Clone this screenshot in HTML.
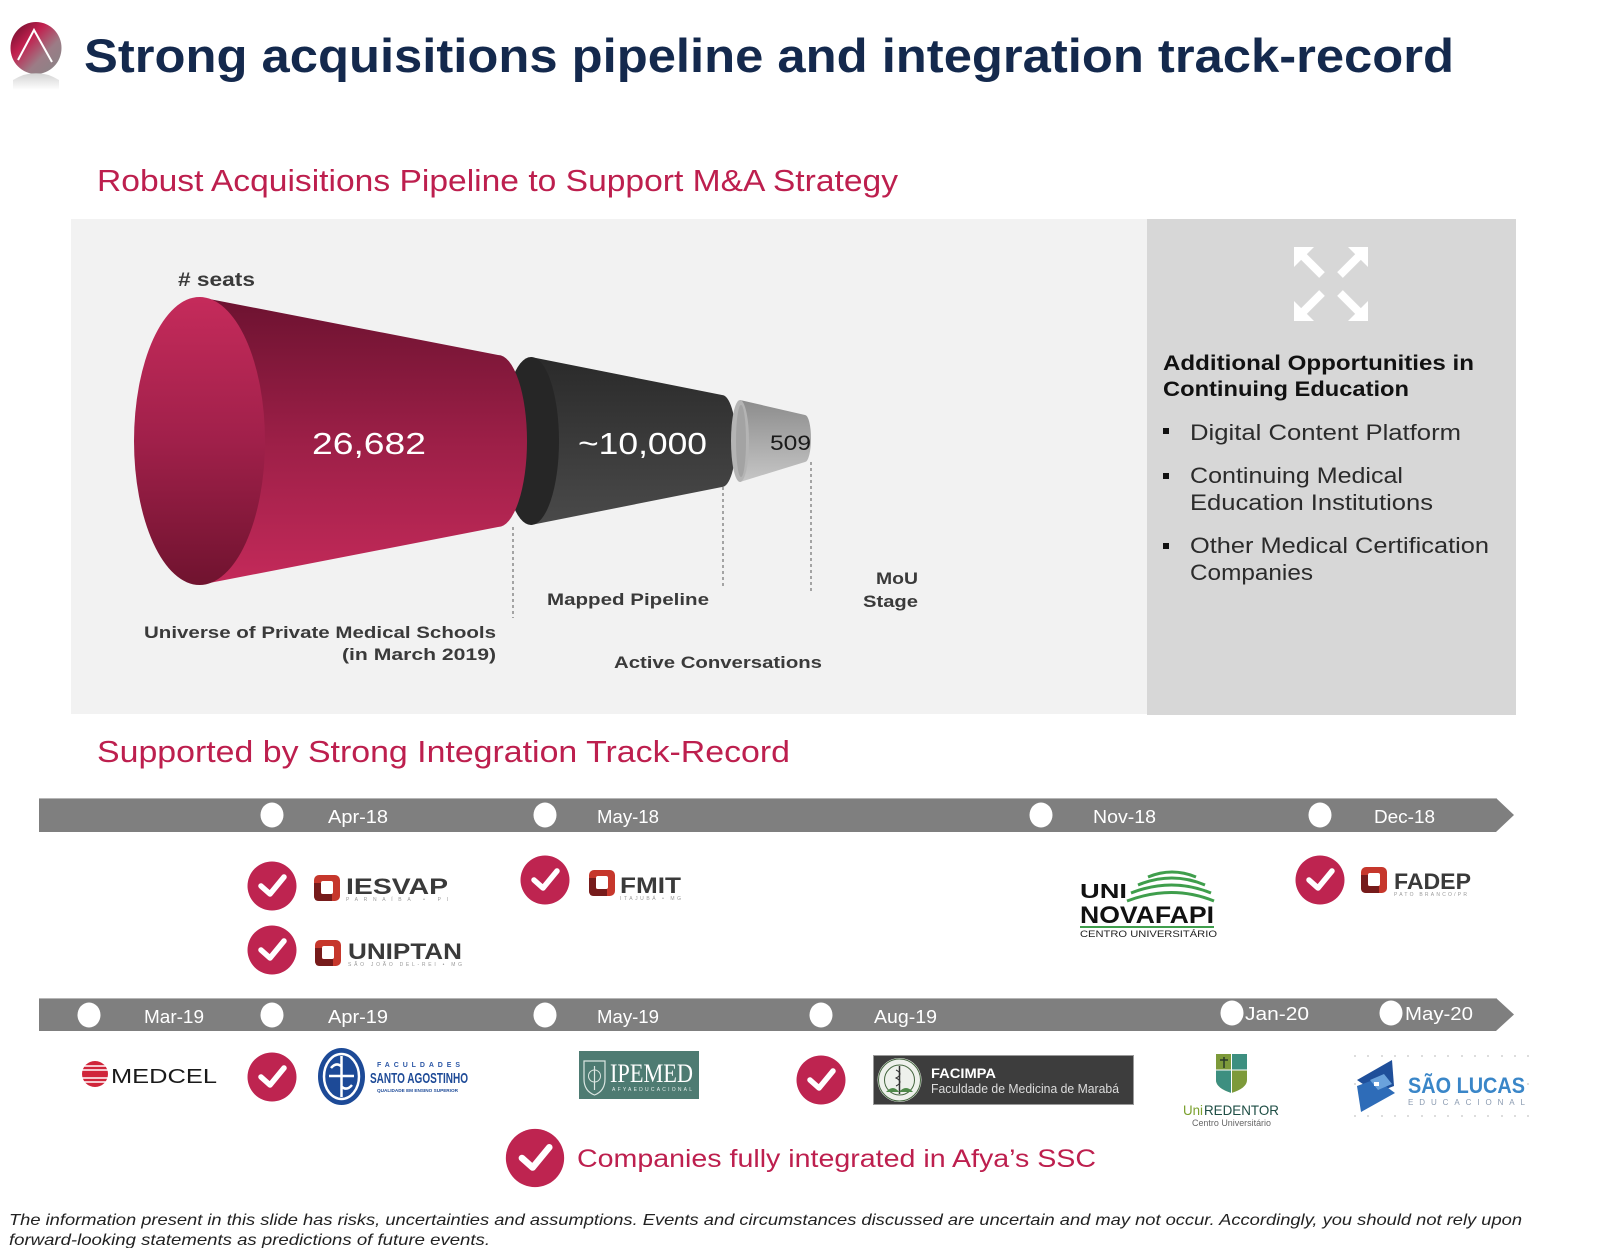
<!DOCTYPE html>
<html>
<head>
<meta charset="utf-8">
<style>
html,body{margin:0;padding:0;background:#ffffff;}
svg{display:block;}
text{font-family:"Liberation Sans", Arial, sans-serif;}
.serif{font-family:"Liberation Serif", serif;}
</style>
</head>
<body>
<svg xmlns="http://www.w3.org/2000/svg" width="1600" height="1248" viewBox="0 0 1600 1248">
<defs>
  <linearGradient id="logoG" x1="0" y1="0" x2="1" y2="1">
    <stop offset="0" stop-color="#5e0c25"/>
    <stop offset="0.35" stop-color="#c2204f"/>
    <stop offset="0.65" stop-color="#9c7c86"/>
    <stop offset="1" stop-color="#858585"/>
  </linearGradient>
  <linearGradient id="reflG" x1="0" y1="0" x2="0" y2="1">
    <stop offset="0" stop-color="#c8c8c8"/>
    <stop offset="1" stop-color="#ffffff"/>
  </linearGradient>
  <linearGradient id="redBody" gradientUnits="userSpaceOnUse" x1="0" y1="297" x2="0" y2="585">
    <stop offset="0" stop-color="#6c1230"/>
    <stop offset="0.5" stop-color="#9c1f47"/>
    <stop offset="1" stop-color="#c42a5a"/>
  </linearGradient>
  <linearGradient id="redFace" gradientUnits="userSpaceOnUse" x1="0" y1="297" x2="0" y2="585">
    <stop offset="0" stop-color="#c52b5b"/>
    <stop offset="0.5" stop-color="#a0204a"/>
    <stop offset="1" stop-color="#70132f"/>
  </linearGradient>
  <linearGradient id="darkBody" gradientUnits="userSpaceOnUse" x1="0" y1="357" x2="0" y2="525">
    <stop offset="0" stop-color="#2a2a2a"/>
    <stop offset="1" stop-color="#4a4a4a"/>
  </linearGradient>
  <linearGradient id="grayBody" gradientUnits="userSpaceOnUse" x1="0" y1="400" x2="0" y2="482">
    <stop offset="0" stop-color="#8c8c8c"/>
    <stop offset="1" stop-color="#c6c6c6"/>
  </linearGradient>
  <g id="chk">
    <circle cx="0" cy="0" r="24.5" fill="#be2450"/>
    <polyline points="-11,0 -2,8 12,-9" fill="none" stroke="#ffffff" stroke-width="5.5" stroke-linecap="round" stroke-linejoin="round"/>
  </g>
  <g id="ring">
    <rect x="0" y="0" width="26" height="26" rx="5" fill="#c6372c"/>
    <path d="M0,8 L7,8 L7,19 L18,19 L18,26 L5,26 Q0,26 0,21 Z" fill="#761b1b"/>
    <rect x="7" y="6" width="12" height="13" rx="2" fill="#ffffff"/>
  </g>
</defs>

<!-- Header logo -->
<ellipse cx="36" cy="48" rx="25.5" ry="26" fill="url(#logoG)"/>
<polyline points="18,60 34,30 52,62" fill="none" stroke="#ffffff" stroke-width="2"/>
<path d="M13,80 Q36,66 59,80 L59,90 L13,90 Z" fill="url(#reflG)" opacity="0.8"/>

<!-- Title -->
<text x="84" y="72" font-size="47" font-weight="bold" fill="#14294d" textLength="1370" lengthAdjust="spacingAndGlyphs">Strong acquisitions pipeline and integration track-record</text>

<!-- Subtitle 1 -->
<text x="97" y="191" font-size="31" fill="#bd1f4e" textLength="801" lengthAdjust="spacingAndGlyphs">Robust Acquisitions Pipeline to Support M&amp;A Strategy</text>

<!-- Panels -->
<rect x="71" y="219" width="1076" height="495" fill="#f2f2f2"/>
<rect x="1147" y="219" width="369" height="496" fill="#d7d7d7"/>

<!-- Funnel -->
<text x="178" y="286" font-size="19" font-weight="bold" fill="#3a3a3a" textLength="77" lengthAdjust="spacingAndGlyphs"># seats</text>

<path d="M531,357 L722,395 A14,46 0 0 1 722,487 L531,525 Z" fill="url(#darkBody)"/>
<ellipse cx="531" cy="441" rx="28" ry="84" fill="#262626"/>
<path d="M740,400 L805,415 A6,23.5 0 0 1 805,462 L740,482 Z" fill="url(#grayBody)"/>
<ellipse cx="740" cy="441" rx="9" ry="41" fill="#b4b4b4"/>
<ellipse cx="741" cy="441" rx="5" ry="36" fill="#a3a3a3"/>
<path d="M199,297 L498,355 A29,86 0 0 1 498,527 L199,585 Z" fill="url(#redBody)"/>
<ellipse cx="199.5" cy="441" rx="65.5" ry="144" fill="url(#redFace)"/>

<text x="312" y="454" font-size="31" fill="#ffffff" textLength="114" lengthAdjust="spacingAndGlyphs">26,682</text>
<text x="578" y="454" font-size="31" fill="#ffffff" textLength="129" lengthAdjust="spacingAndGlyphs">~10,000</text>
<text x="770" y="450" font-size="21" fill="#1a1a1a" textLength="41" lengthAdjust="spacingAndGlyphs">509</text>

<line x1="513" y1="527" x2="513" y2="618" stroke="#555" stroke-width="1" stroke-dasharray="3,3"/>
<line x1="723" y1="487" x2="723" y2="586" stroke="#555" stroke-width="1" stroke-dasharray="3,3"/>
<line x1="811" y1="462" x2="811" y2="591" stroke="#555" stroke-width="1" stroke-dasharray="3,3"/>

<text x="547" y="605" font-size="17" font-weight="bold" fill="#3a3a3a" textLength="162" lengthAdjust="spacingAndGlyphs">Mapped Pipeline</text>
<text x="144" y="638" font-size="17" font-weight="bold" fill="#3a3a3a" textLength="352" lengthAdjust="spacingAndGlyphs">Universe of Private Medical Schools</text>
<text x="342" y="660" font-size="17" font-weight="bold" fill="#3a3a3a" textLength="154" lengthAdjust="spacingAndGlyphs">(in March 2019)</text>
<text x="614" y="668" font-size="17" font-weight="bold" fill="#3a3a3a" textLength="208" lengthAdjust="spacingAndGlyphs">Active Conversations</text>
<text x="876" y="584" font-size="17" font-weight="bold" fill="#3a3a3a" textLength="42" lengthAdjust="spacingAndGlyphs">MoU</text>
<text x="863" y="607" font-size="17" font-weight="bold" fill="#3a3a3a" textLength="55" lengthAdjust="spacingAndGlyphs">Stage</text>

<!-- Expand icon -->
<g fill="#ffffff" stroke="none">
  <g transform="translate(1331,284)">
    <g>
      <polygon points="-37,-37 -17,-37 -37,-17"/>
      <line x1="-31" y1="-31" x2="-9" y2="-9" stroke="#ffffff" stroke-width="8"/>
    </g>
    <g transform="rotate(90)">
      <polygon points="-37,-37 -17,-37 -37,-17"/>
      <line x1="-31" y1="-31" x2="-9" y2="-9" stroke="#ffffff" stroke-width="8"/>
    </g>
    <g transform="rotate(180)">
      <polygon points="-37,-37 -17,-37 -37,-17"/>
      <line x1="-31" y1="-31" x2="-9" y2="-9" stroke="#ffffff" stroke-width="8"/>
    </g>
    <g transform="rotate(270)">
      <polygon points="-37,-37 -17,-37 -37,-17"/>
      <line x1="-31" y1="-31" x2="-9" y2="-9" stroke="#ffffff" stroke-width="8"/>
    </g>
  </g>
</g>

<!-- Right panel text -->
<text x="1163" y="370" font-size="21" font-weight="bold" fill="#111" textLength="311" lengthAdjust="spacingAndGlyphs">Additional Opportunities in</text>
<text x="1163" y="396" font-size="21" font-weight="bold" fill="#111" textLength="246" lengthAdjust="spacingAndGlyphs">Continuing Education</text>
<rect x="1163" y="428" width="6" height="6" fill="#111"/>
<text x="1190" y="440" font-size="22" fill="#2b2b2b" textLength="271" lengthAdjust="spacingAndGlyphs">Digital Content Platform</text>
<rect x="1163" y="473" width="6" height="6" fill="#111"/>
<text x="1190" y="483" font-size="22" fill="#2b2b2b" textLength="213" lengthAdjust="spacingAndGlyphs">Continuing Medical</text>
<text x="1190" y="510" font-size="22" fill="#2b2b2b" textLength="243" lengthAdjust="spacingAndGlyphs">Education Institutions</text>
<rect x="1163" y="543" width="6" height="6" fill="#111"/>
<text x="1190" y="553" font-size="22" fill="#2b2b2b" textLength="299" lengthAdjust="spacingAndGlyphs">Other Medical Certification</text>
<text x="1190" y="580" font-size="22" fill="#2b2b2b" textLength="123" lengthAdjust="spacingAndGlyphs">Companies</text>

<!-- Subtitle 2 -->
<text x="97" y="762" font-size="31" fill="#bd1f4e" textLength="693" lengthAdjust="spacingAndGlyphs">Supported by Strong Integration Track-Record</text>

<!-- Timeline bar 1 -->
<polygon points="39,798 1496,798 1514,815 1496,832 39,832" fill="#7f7f7f"/>
<line x1="39" y1="798.5" x2="1496" y2="798.5" stroke="#b5b5b5" stroke-width="1"/>
<ellipse cx="272" cy="815" rx="11.5" ry="12.5" fill="#fff"/>
<ellipse cx="545" cy="815" rx="11.5" ry="12.5" fill="#fff"/>
<ellipse cx="1041" cy="815" rx="11.5" ry="12.5" fill="#fff"/>
<ellipse cx="1320" cy="815" rx="11.5" ry="12.5" fill="#fff"/>
<text x="328" y="823" font-size="18" fill="#fff" textLength="60" lengthAdjust="spacingAndGlyphs">Apr-18</text>
<text x="597" y="823" font-size="18" fill="#fff" textLength="62" lengthAdjust="spacingAndGlyphs">May-18</text>
<text x="1093" y="823" font-size="18" fill="#fff" textLength="63" lengthAdjust="spacingAndGlyphs">Nov-18</text>
<text x="1374" y="823" font-size="18" fill="#fff" textLength="61" lengthAdjust="spacingAndGlyphs">Dec-18</text>

<!-- Row 1 items -->
<use href="#chk" x="272" y="886"/>
<use href="#ring" x="314" y="875"/>
<text x="346" y="894" font-size="22" font-weight="bold" fill="#3a3a3a" textLength="102" lengthAdjust="spacingAndGlyphs">IESVAP</text>
<text x="346" y="901" font-size="5" fill="#9a9a9a" textLength="102" lengthAdjust="spacing">PARNAÍBA • PI</text>

<use href="#chk" x="272" y="950"/>
<use href="#ring" x="315" y="940"/>
<text x="348" y="959" font-size="22" font-weight="bold" fill="#3a3a3a" textLength="114" lengthAdjust="spacingAndGlyphs">UNIPTAN</text>
<text x="348" y="966" font-size="5" fill="#9a9a9a" textLength="114" lengthAdjust="spacing">SÃO JOÃO DEL-REI • MG</text>

<use href="#chk" x="545" y="880"/>
<use href="#ring" x="589" y="870"/>
<text x="620" y="893" font-size="22" font-weight="bold" fill="#3a3a3a" textLength="61" lengthAdjust="spacingAndGlyphs">FMIT</text>
<text x="620" y="900" font-size="5" fill="#9a9a9a" textLength="61" lengthAdjust="spacing">ITAJUBÁ • MG</text>

<!-- UNINOVAFAPI -->
<g fill="none" stroke="#3f9e4c" stroke-width="3">
  <path d="M1148,877 Q1172,867 1196,877"/>
  <path d="M1138,885 Q1172,871 1205,885"/>
  <path d="M1131,893 Q1172,877 1211,893"/>
  <path d="M1127,901 Q1172,884 1214,901"/>
</g>
<text x="1080" y="898" font-size="20" font-weight="bold" fill="#111" textLength="47" lengthAdjust="spacingAndGlyphs">UNI</text>
<text x="1080" y="923" font-size="24" font-weight="bold" fill="#111" textLength="134" lengthAdjust="spacingAndGlyphs">NOVAFAPI</text>
<line x1="1080" y1="927" x2="1214" y2="927" stroke="#3f9e4c" stroke-width="2"/>
<text x="1080" y="937" font-size="9" fill="#222" textLength="137" lengthAdjust="spacingAndGlyphs">CENTRO UNIVERSITÁRIO</text>

<use href="#chk" x="1320" y="880"/>
<use href="#ring" x="1361" y="867"/>
<text x="1394" y="889" font-size="22" font-weight="bold" fill="#3a3a3a" textLength="77" lengthAdjust="spacingAndGlyphs">FADEP</text>
<text x="1394" y="896" font-size="5" fill="#9a9a9a" textLength="73" lengthAdjust="spacing">PATO BRANCO/PR</text>

<!-- Timeline bar 2 -->
<polygon points="39,998 1496,998 1514,1014.5 1496,1031 39,1031" fill="#7f7f7f"/>
<line x1="39" y1="998.5" x2="1496" y2="998.5" stroke="#b5b5b5" stroke-width="1"/>
<ellipse cx="89" cy="1015" rx="11.5" ry="12.5" fill="#fff"/>
<ellipse cx="272" cy="1015" rx="11.5" ry="12.5" fill="#fff"/>
<ellipse cx="545" cy="1015" rx="11.5" ry="12.5" fill="#fff"/>
<ellipse cx="821" cy="1015" rx="11.5" ry="12.5" fill="#fff"/>
<ellipse cx="1232" cy="1013" rx="11.5" ry="12.5" fill="#fff"/>
<ellipse cx="1391" cy="1013" rx="11.5" ry="12.5" fill="#fff"/>
<text x="144" y="1023" font-size="18" fill="#fff" textLength="60" lengthAdjust="spacingAndGlyphs">Mar-19</text>
<text x="328" y="1023" font-size="18" fill="#fff" textLength="60" lengthAdjust="spacingAndGlyphs">Apr-19</text>
<text x="597" y="1023" font-size="18" fill="#fff" textLength="62" lengthAdjust="spacingAndGlyphs">May-19</text>
<text x="874" y="1023" font-size="18" fill="#fff" textLength="63" lengthAdjust="spacingAndGlyphs">Aug-19</text>
<text x="1245" y="1020" font-size="18" fill="#fff" textLength="64" lengthAdjust="spacingAndGlyphs">Jan-20</text>
<text x="1405" y="1020" font-size="18" fill="#fff" textLength="68" lengthAdjust="spacingAndGlyphs">May-20</text>

<!-- MEDCEL -->
<circle cx="95" cy="1074" r="13" fill="#d0253a"/>
<g stroke="#ffffff" stroke-width="1.4">
  <line x1="82" y1="1066" x2="108" y2="1066"/>
  <line x1="82" y1="1070" x2="108" y2="1070"/>
  <line x1="82" y1="1078" x2="108" y2="1078"/>
  <line x1="82" y1="1082" x2="108" y2="1082"/>
</g>
<text x="111" y="1083" font-size="20" fill="#1a1a1a" textLength="106" lengthAdjust="spacingAndGlyphs">MEDCEL</text>

<!-- Santo Agostinho -->
<use href="#chk" x="272" y="1077"/>
<ellipse cx="341.5" cy="1076.5" rx="23.5" ry="28.5" fill="#1d4a97"/>
<ellipse cx="341.5" cy="1076.5" rx="17.5" ry="22.5" fill="none" stroke="#ffffff" stroke-width="2.5"/>
<path d="M341.5,1056 L341.5,1097 M329,1076 L354,1076 M331,1068 Q336,1062 341,1066 M352,1085 Q347,1091 342,1087" fill="none" stroke="#ffffff" stroke-width="2.5"/>
<text x="377" y="1067" font-size="7" font-weight="bold" fill="#2d58a6" textLength="83" lengthAdjust="spacing">FACULDADES</text>
<text x="370" y="1083" font-size="15" font-weight="bold" fill="#1d4a97" textLength="98" lengthAdjust="spacingAndGlyphs">SANTO AGOSTINHO</text>
<text x="377" y="1092" font-size="4.5" font-weight="bold" fill="#1d4a97" textLength="81" lengthAdjust="spacingAndGlyphs">QUALIDADE EM ENSINO SUPERIOR</text>

<!-- IPEMED -->
<rect x="579" y="1051" width="120" height="48" fill="#4e7b72"/>
<path d="M584,1061 L605,1061 L605,1079 Q605,1091 594.5,1095 Q584,1091 584,1079 Z" fill="none" stroke="#dbe6e2" stroke-width="1.2"/>
<circle cx="594.5" cy="1076" r="6" fill="none" stroke="#dbe6e2" stroke-width="1"/>
<line x1="594.5" y1="1066" x2="594.5" y2="1090" stroke="#dbe6e2" stroke-width="1.2"/>
<text class="serif" x="610" y="1082" font-size="26" fill="#ffffff" textLength="83" lengthAdjust="spacingAndGlyphs">IPEMED</text>
<text x="612" y="1091" font-size="5" fill="#e6eeeb" textLength="80" lengthAdjust="spacing">AFYAEDUCACIONAL</text>

<!-- FACIMPA -->
<use href="#chk" x="821" y="1080"/>
<rect x="873.5" y="1055.5" width="260" height="49" fill="#3d3d3d" stroke="#9a9a9a" stroke-width="1"/>
<circle cx="899.5" cy="1080" r="22" fill="#eef1ec"/>
<circle cx="899.5" cy="1080" r="21" fill="none" stroke="#44663f" stroke-width="1"/>
<circle cx="899.5" cy="1080" r="15" fill="none" stroke="#44663f" stroke-width="1"/>
<line x1="899.5" y1="1066" x2="899.5" y2="1094" stroke="#333" stroke-width="1.5"/>
<path d="M896,1070 Q904,1074 896,1078 Q904,1082 896,1086" fill="none" stroke="#333" stroke-width="1"/>
<path d="M886,1092 Q893,1084 899,1092 Q906,1084 913,1092 Z" fill="#4f8a4a"/>
<text x="931" y="1078" font-size="14" font-weight="bold" fill="#ffffff" textLength="65" lengthAdjust="spacingAndGlyphs">FACIMPA</text>
<text x="931" y="1093" font-size="12.5" fill="#dddddd" textLength="188" lengthAdjust="spacingAndGlyphs">Faculdade de Medicina de Marabá</text>

<!-- UniREDENTOR -->
<path d="M1216,1054 L1247,1054 L1247,1080 Q1247,1088 1231.5,1093 Q1216,1088 1216,1080 Z" fill="#7d9a3a"/>
<rect x="1231.5" y="1054" width="15.5" height="16" fill="#3d8f80"/>
<path d="M1216,1070 L1231.5,1070 L1231.5,1093 Q1216,1088 1216,1080 Z" fill="#3d8f80"/>
<line x1="1231.5" y1="1054" x2="1231.5" y2="1093" stroke="#ffffff" stroke-width="1"/>
<line x1="1216" y1="1070" x2="1247" y2="1070" stroke="#ffffff" stroke-width="1"/>
<path d="M1220,1060 L1228,1060 M1224,1057 L1224,1068" stroke="#2a3a2a" stroke-width="1.5"/>
<text x="1183" y="1115" font-size="14" fill="#7aa02c" textLength="20" lengthAdjust="spacingAndGlyphs">Uni</text>
<text x="1204" y="1115" font-size="14" fill="#1d4d44" textLength="75" lengthAdjust="spacingAndGlyphs">REDENTOR</text>
<text x="1192" y="1126" font-size="9" fill="#666" textLength="79" lengthAdjust="spacingAndGlyphs">Centro Universitário</text>

<!-- São Lucas -->
<g fill="#c4c4c4">
  <circle cx="1355" cy="1056" r="0.9"/><circle cx="1368" cy="1056" r="0.9"/><circle cx="1382" cy="1056" r="0.9"/><circle cx="1395" cy="1056" r="0.9"/><circle cx="1408" cy="1056" r="0.9"/><circle cx="1422" cy="1056" r="0.9"/><circle cx="1435" cy="1056" r="0.9"/><circle cx="1448" cy="1056" r="0.9"/><circle cx="1462" cy="1056" r="0.9"/><circle cx="1475" cy="1056" r="0.9"/><circle cx="1488" cy="1056" r="0.9"/><circle cx="1502" cy="1056" r="0.9"/><circle cx="1515" cy="1056" r="0.9"/><circle cx="1528" cy="1056" r="0.9"/>
  <circle cx="1355" cy="1116" r="0.9"/><circle cx="1368" cy="1116" r="0.9"/><circle cx="1382" cy="1116" r="0.9"/><circle cx="1395" cy="1116" r="0.9"/><circle cx="1408" cy="1116" r="0.9"/><circle cx="1422" cy="1116" r="0.9"/><circle cx="1435" cy="1116" r="0.9"/><circle cx="1448" cy="1116" r="0.9"/><circle cx="1462" cy="1116" r="0.9"/><circle cx="1475" cy="1116" r="0.9"/><circle cx="1488" cy="1116" r="0.9"/><circle cx="1502" cy="1116" r="0.9"/><circle cx="1515" cy="1116" r="0.9"/><circle cx="1528" cy="1116" r="0.9"/>
  <circle cx="1355" cy="1084" r="0.9"/><circle cx="1528" cy="1084" r="0.9"/>
</g>
<polygon points="1392,1060 1394,1086 1376,1093 1357,1080" fill="#1f4f9a"/>
<polygon points="1357,1086 1376,1079 1395,1093 1361,1112" fill="#2e6cb8"/>
<polygon points="1370,1080 1384,1074 1392,1084 1378,1090" fill="#6aa2dc"/>
<rect x="1374" y="1082" width="5" height="4" fill="#ffffff"/>
<text x="1408" y="1093" font-size="22" font-weight="bold" fill="#3a86c8" textLength="117" lengthAdjust="spacingAndGlyphs">SÃO LUCAS</text>
<text x="1408" y="1105" font-size="8" fill="#8a9ab0" textLength="117" lengthAdjust="spacing">EDUCACIONAL</text>

<!-- Legend -->
<g transform="translate(535,1158) scale(1.19)">
  <circle cx="0" cy="0" r="24.5" fill="#be2450"/>
  <polyline points="-11,0 -2,8 12,-9" fill="none" stroke="#ffffff" stroke-width="5.5" stroke-linecap="round" stroke-linejoin="round"/>
</g>
<text x="577" y="1167" font-size="25" fill="#bd1f4e" textLength="519" lengthAdjust="spacingAndGlyphs">Companies fully integrated in Afya’s SSC</text>

<!-- Footer -->
<text x="9" y="1225" font-size="16" font-style="italic" fill="#222" textLength="1513" lengthAdjust="spacingAndGlyphs">The information present in this slide has risks, uncertainties and assumptions. Events and circumstances discussed are uncertain and may not occur. Accordingly, you should not rely upon</text>
<text x="9" y="1245" font-size="16" font-style="italic" fill="#222" textLength="481" lengthAdjust="spacingAndGlyphs">forward-looking statements as predictions of future events.</text>
</svg>
</body>
</html>
